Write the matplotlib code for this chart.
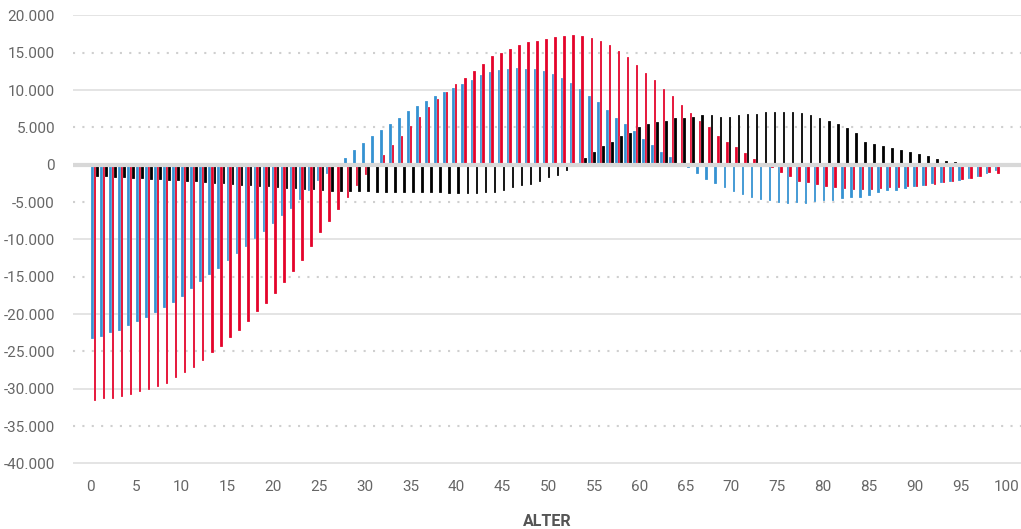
import numpy as np
import matplotlib
matplotlib.use('Agg')
import matplotlib.pyplot as plt
from matplotlib.ticker import FuncFormatter

plt.rcParams['font.family'] = ['Roboto', 'DejaVu Sans']

# Daten (in Tausend), Alter 0..100
ages = np.arange(0, 101)

blau = [-23.3, -23.0, -22.5, -22.2, -21.6, -21.05, -20.5, -19.8, -19.2, -18.5,
        -17.7, -16.6, -15.7, -14.8, -13.9, -12.85, -11.9, -11.0, -9.95, -8.97,
        -7.98, -6.87, -5.97, -4.73, -3.52, -2.14, -1.25, 0.0, 0.94, 2.0,
        2.85, 3.9, 4.7, 5.45, 6.25, 7.2, 7.8, 8.5, 9.15, 9.7,
        10.3, 10.85, 11.3, 11.95, 12.35, 12.7, 12.85, 13.0, 12.8, 12.8,
        12.6, 12.2, 11.55, 10.97, 10.1, 9.15, 8.35, 7.3, 6.25, 5.4,
        4.5, 3.5, 2.7, 1.7, 1.0, 0.0, -0.5, -1.3, -2.05, -2.63,
        -3.15, -3.62, -4.03, -4.52, -4.72, -4.9, -5.17, -5.2, -5.12, -5.22,
        -5.05, -4.9, -4.8, -4.64, -4.46, -4.4, -4.15, -3.84, -3.57, -3.48,
        -3.26, -2.94, -2.8, -2.63, -2.4, -2.27, -2.14, -1.92, -1.6, -1.25,
        -0.8]

rot = [-31.6, -31.4, -31.3, -31.1, -30.8, -30.4, -30.1, -29.8, -29.3, -28.6,
       -27.9, -27.2, -26.3, -25.25, -24.4, -23.25, -22.2, -21.05, -19.7, -18.6,
       -17.3, -15.9, -14.4, -12.85, -11.05, -9.2, -7.7, -6.1, -4.4, -2.9,
       -1.43, 0.0, 1.3, 2.7, 3.85, 5.2, 6.4, 7.7, 8.8, 9.7,
       10.75, 11.55, 12.5, 13.5, 14.5, 15.0, 15.5, 16.0, 16.4, 16.6,
       16.8, 17.1, 17.2, 17.35, 17.2, 16.9, 16.55, 16.0, 15.2, 14.45,
       13.4, 12.3, 11.3, 10.2, 9.2, 8.0, 6.95, 5.9, 5.0, 3.9,
       3.0, 2.35, 1.5, 0.7, 0.0, -0.45, -1.16, -1.7, -2.27, -2.5,
       -2.72, -3.03, -3.12, -3.3, -3.39, -3.39, -3.39, -3.2, -3.15, -3.12,
       -2.94, -2.98, -2.85, -2.72, -2.4, -2.27, -2.1, -1.92, -1.6, -1.16,
       -1.25]

schwarz = [-1.6, -1.7, -1.75, -1.8, -1.85, -1.95, -2.05, -2.1, -2.15, -2.2,
           -2.3, -2.35, -2.45, -2.55, -2.65, -2.7, -2.8, -2.85, -2.95, -3.05,
           -3.15, -3.25, -3.3, -3.4, -3.45, -3.55, -3.6, -3.66, -3.66, -3.66,
           -3.66, -3.75, -3.8, -3.75, -3.8, -3.84, -3.8, -3.8, -3.8, -3.9,
           -3.9, -3.93, -3.9, -3.84, -3.84, -3.5, -3.17, -2.85, -2.76, -2.27,
           -1.83, -1.52, -0.8, 0.0, 0.85, 1.65, 2.45, 3.1, 3.8, 4.25,
           5.0, 5.5, 5.75, 5.9, 6.25, 6.25, 6.4, 6.6, 6.6, 6.45,
           6.45, 6.6, 6.75, 6.85, 7.0, 7.0, 7.0, 7.0, 6.87, 6.6,
           6.2, 5.9, 5.4, 4.86, 4.3, 3.1, 2.77, 2.45, 2.2, 1.96,
           1.65, 1.38, 1.1, 0.8, 0.5, 0.4, 0.0, 0.0, 0.0, 0.0,
           0.0]

x_ticks = np.arange(0, 101, 5)
y_ticks = np.arange(-40000, 20001, 5000)

blau = np.array(blau) * 1000
rot = np.array(rot) * 1000
schwarz = np.array(schwarz) * 1000

fig = plt.figure(figsize=(10.21, 5.29), dpi=100)
ax = fig.add_axes([73 / 1021, 65.5 / 529, 948 / 1021, 448.2 / 529])

# Gitterlinien: durchgezogen bei 10.000er, gepunktet bei 5.000er
for v in y_ticks:
    if v == 0:
        continue
    if v % 10000 == 0:
        ax.axhline(v, color='#dcdcdc', lw=1.1, zorder=0)
    else:
        ax.axhline(v, color='#cfcfcf', lw=1.5, ls=(0, (1, 3.5)), zorder=0)

w = 0.28
ax.bar(ages - w, blau, width=w, color='#3592d2', edgecolor='white', linewidth=0.15, zorder=2)
ax.bar(ages, rot, width=w, color='#e4032a', edgecolor='white', linewidth=0.15, zorder=2)
ax.bar(ages + w, schwarz, width=w, color='#000000', edgecolor='white', linewidth=0.15, zorder=2)

ax.axhline(0, color='#d8d8d8', lw=3, zorder=3)

ax.set_ylim(-40000, 20000)
ax.set_xlim(-2.41, 102.5)
ax.set_yticks(y_ticks)
ax.yaxis.set_major_formatter(FuncFormatter(lambda v, p: f'{int(v):,}'.replace(',', '.')))

# Beschriftungen der x-Achse liegen leicht versetzt zu den Balkengruppen
ax.set_xticks((x_ticks * 9.16 - 4.75) / 9.034)
ax.set_xticklabels([str(t) for t in x_ticks])

ax.tick_params(axis='both', length=0, labelsize=11, colors='#666666')
ax.tick_params(axis='y', pad=13)
ax.tick_params(axis='x', pad=12)
for s in ax.spines.values():
    s.set_visible(False)

ax.set_xlabel('ALTER', fontsize=11.5, fontweight='bold', color='#555555', labelpad=14)

fig.savefig('out.png', dpi=100)
